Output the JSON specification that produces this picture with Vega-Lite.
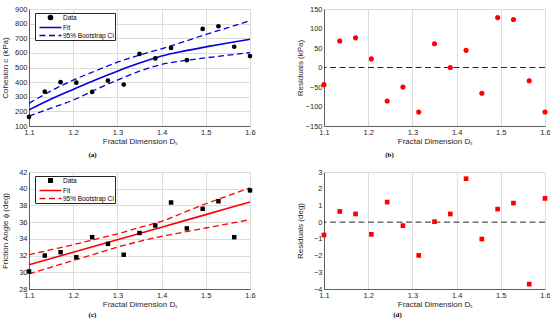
{
  "$schema": "https://vega.github.io/schema/vega-lite/v6.json",
  "background": "white",
  "padding": {"left": 0, "top": 4, "right": 2, "bottom": 2},
  "resolve": {"scale": {"color": "independent"}, "legend": {"color": "independent"}},
  "datasets": {
    "pts": [
      {"D": 1.1, "c": 162, "rc": -44, "phi": 30.1, "rphi": -0.77},
      {"D": 1.1357, "c": 335, "rc": 68, "phi": 32.0, "rphi": 0.64},
      {"D": 1.1714, "c": 400, "rc": 76, "phi": 32.4, "rphi": 0.49},
      {"D": 1.2071, "c": 396, "rc": 22, "phi": 31.8, "rphi": -0.73},
      {"D": 1.2429, "c": 333, "rc": -86, "phi": 34.2, "rphi": 1.2},
      {"D": 1.2786, "c": 410, "rc": -50, "phi": 33.4, "rphi": -0.21},
      {"D": 1.3143, "c": 383, "rc": -114, "phi": 32.1, "rphi": -1.99},
      {"D": 1.35, "c": 593, "rc": 61, "phi": 34.7, "rphi": 0.03},
      {"D": 1.3857, "c": 562, "rc": 0, "phi": 35.6, "rphi": 0.49},
      {"D": 1.4214, "c": 634, "rc": 44, "phi": 38.35, "rphi": 2.6},
      {"D": 1.4571, "c": 550, "rc": -66, "phi": 35.25, "rphi": -1.01},
      {"D": 1.4929, "c": 764, "rc": 128, "phi": 37.6, "rphi": 0.78},
      {"D": 1.5286, "c": 782, "rc": 123, "phi": 38.5, "rphi": 1.14},
      {"D": 1.5643, "c": 642, "rc": -34, "phi": 34.2, "rphi": -3.71},
      {"D": 1.6, "c": 578, "rc": -114, "phi": 39.8, "rphi": 1.42}
    ],
    "curves": [
      {"D": 1.1, "cfit": 210, "clo": 168, "chi": 255, "pfit": 30.9, "plo": 29.8, "phi": 32.1},
      {"D": 1.15, "cfit": 285, "clo": 222, "chi": 340, "pfit": 31.65, "plo": 30.6, "phi": 32.7},
      {"D": 1.2, "cfit": 350, "clo": 277, "chi": 414, "pfit": 32.4, "plo": 31.4, "phi": 33.3},
      {"D": 1.25, "cfit": 415, "clo": 348, "chi": 476, "pfit": 33.15, "plo": 32.2, "phi": 33.95},
      {"D": 1.3, "cfit": 475, "clo": 414, "chi": 536, "pfit": 33.9, "plo": 33.0, "phi": 34.6},
      {"D": 1.35, "cfit": 530, "clo": 475, "chi": 585, "pfit": 34.65, "plo": 33.7, "phi": 35.35},
      {"D": 1.4, "cfit": 578, "clo": 521, "chi": 628, "pfit": 35.4, "plo": 34.3, "phi": 36.1},
      {"D": 1.45, "cfit": 612, "clo": 547, "chi": 676, "pfit": 36.15, "plo": 34.8, "phi": 37.15},
      {"D": 1.5, "cfit": 641, "clo": 566, "chi": 726, "pfit": 36.9, "plo": 35.3, "phi": 38.2},
      {"D": 1.55, "cfit": 668, "clo": 584, "chi": 772, "pfit": 37.65, "plo": 35.8, "phi": 39.15},
      {"D": 1.6, "cfit": 693, "clo": 602, "chi": 820, "pfit": 38.4, "plo": 36.3, "phi": 40.1}
    ]
  },
  "spacing": 9,
  "vconcat": [
    {
      "spacing": 39,
      "resolve": {"scale": {"color": "independent"}, "legend": {"color": "independent"}},
      "hconcat": [
        {
          "width": 221, "height": 117,
          "title": {"text": "(a)", "dx": -47},
          "layer": [
            {
              "data": {"name": "curves"},
              "mark": {"type": "line", "strokeWidth": 1.6, "interpolate": "monotone"},
              "encoding": {
                "x": {"field": "D", "type": "quantitative", "scale": {"domain": [1.1, 1.6], "nice": false}, "axis": {"values": [1.1, 1.2, 1.3, 1.4, 1.5, 1.6], "format": ".1f"}, "title": "Fractal Dimension Dₛ"},
                "y": {"field": "cfit", "type": "quantitative", "scale": {"domain": [100, 900], "nice": false}, "axis": {"tickCount": 9, "labelOverlap": false}, "title": "Cohesion c (kPa)"},
                "color": {
                  "datum": "Fit", "type": "nominal",
                  "scale": {"domain": ["Data", "Fit", "95% Bootstrap CI"], "range": ["black", "#0000dd", "#0000dd"]},
                  "legend": {
                    "orient": "none", "legendX": 6, "legendY": 4, "title": null, "direction": "vertical",
                    "fillColor": "white", "strokeColor": "#262626", "padding": 1, "rowPadding": 1,
                    "labelFont": "Liberation Sans", "labelFontSize": 6.5, "labelColor": "black",
                    "symbolSize": 25, "symbolOffset": 11, "labelOffset": 9,
                    "encode": {"symbols": {"update": {
                      "shape": {"signal": "datum.value === 'Data' ? 'circle' : 'M-4.4,0H4.4'"},
                      "size": {"signal": "datum.value === 'Data' ? 18 : 25"},
                      "fill": {"signal": "datum.value === 'Data' ? 'black' : 'transparent'"},
                      "stroke": {"signal": "datum.value === 'Data' ? 'transparent' : '#0000dd'"},
                      "strokeDash": {"signal": "datum.value === '95% Bootstrap CI' ? [6, 3.5] : [1, 0]"},
                      "strokeWidth": {"value": 1.5},
                      "opacity": {"value": 1}
                    }}}
                  }
                }
              }
            },
            {
              "data": {"name": "curves"},
              "mark": {"type": "line", "strokeWidth": 1.3, "strokeDash": [6, 3.5], "interpolate": "monotone"},
              "encoding": {
                "x": {"field": "D", "type": "quantitative", "title": "Fractal Dimension Dₛ"},
                "y": {"field": "clo", "type": "quantitative", "title": "Cohesion c (kPa)"},
                "color": {"datum": "95% Bootstrap CI", "type": "nominal"}
              }
            },
            {
              "data": {"name": "curves"},
              "mark": {"type": "line", "strokeWidth": 1.3, "strokeDash": [6, 3.5], "interpolate": "monotone"},
              "encoding": {
                "x": {"field": "D", "type": "quantitative", "title": "Fractal Dimension Dₛ"},
                "y": {"field": "chi", "type": "quantitative", "title": "Cohesion c (kPa)"},
                "color": {"datum": "95% Bootstrap CI", "type": "nominal"}
              }
            },
            {
              "data": {"name": "pts"},
              "mark": {"type": "point", "filled": true, "shape": "circle", "size": 22, "opacity": 1},
              "encoding": {
                "x": {"field": "D", "type": "quantitative", "title": "Fractal Dimension Dₛ"},
                "y": {"field": "c", "type": "quantitative", "title": "Cohesion c (kPa)"},
                "color": {"datum": "Data", "type": "nominal"}
              }
            }
          ]
        },
        {
          "width": 221, "height": 117,
          "title": {"text": "(b)", "dx": -45},
          "layer": [
            {
              "data": {"values": [{}]},
              "mark": {"type": "rule", "color": "#262626", "strokeWidth": 1, "strokeDash": [6, 3.5]},
              "encoding": {"y": {"datum": 0, "type": "quantitative"}}
            },
            {
              "data": {"name": "pts"},
              "mark": {"type": "point", "filled": true, "shape": "circle", "size": 26, "color": "#ff0000", "opacity": 1},
              "encoding": {
                "x": {"field": "D", "type": "quantitative", "scale": {"domain": [1.1, 1.6], "nice": false}, "axis": {"values": [1.1, 1.2, 1.3, 1.4, 1.5, 1.6], "format": ".1f"}, "title": "Fractal Dimension Dₛ"},
                "y": {"field": "rc", "type": "quantitative", "scale": {"domain": [-150, 150], "nice": false}, "axis": {"tickCount": 7, "labelOverlap": false}, "title": "Residuals (kPa)"}
              }
            }
          ]
        }
      ]
    },
    {
      "spacing": 39,
      "resolve": {"scale": {"color": "independent"}, "legend": {"color": "independent"}},
      "hconcat": [
        {
          "width": 221, "height": 117,
          "title": {"text": "(c)", "dx": -47, "offset": 2},
          "layer": [
            {
              "data": {"name": "curves"},
              "mark": {"type": "line", "strokeWidth": 1.6},
              "encoding": {
                "x": {"field": "D", "type": "quantitative", "scale": {"domain": [1.1, 1.6], "nice": false}, "axis": {"values": [1.1, 1.2, 1.3, 1.4, 1.5, 1.6], "format": ".1f"}, "title": "Fractal Dimension Dₛ"},
                "y": {"field": "pfit", "type": "quantitative", "scale": {"domain": [28, 42], "nice": false}, "axis": {"tickCount": 8, "labelOverlap": false}, "title": "Friction Angle ϕ (deg)"},
                "color": {
                  "datum": "Fit", "type": "nominal",
                  "scale": {"domain": ["Data", "Fit", "95% Bootstrap CI"], "range": ["black", "#ff0000", "#ff0000"]},
                  "legend": {
                    "orient": "none", "legendX": 6, "legendY": 4, "title": null, "direction": "vertical",
                    "fillColor": "white", "strokeColor": "#262626", "padding": 1, "rowPadding": 1,
                    "labelFont": "Liberation Sans", "labelFontSize": 6.5, "labelColor": "black",
                    "symbolSize": 25, "symbolOffset": 11, "labelOffset": 9,
                    "encode": {"symbols": {"update": {
                      "shape": {"signal": "datum.value === 'Data' ? 'square' : 'M-4.4,0H4.4'"},
                      "size": {"signal": "datum.value === 'Data' ? 12 : 25"},
                      "fill": {"signal": "datum.value === 'Data' ? 'black' : 'transparent'"},
                      "stroke": {"signal": "datum.value === 'Data' ? 'transparent' : '#ff0000'"},
                      "strokeDash": {"signal": "datum.value === '95% Bootstrap CI' ? [6, 3.5] : [1, 0]"},
                      "strokeWidth": {"value": 1.5},
                      "opacity": {"value": 1}
                    }}}
                  }
                }
              }
            },
            {
              "data": {"name": "curves"},
              "mark": {"type": "line", "strokeWidth": 1.3, "strokeDash": [6, 3.5], "interpolate": "monotone"},
              "encoding": {
                "x": {"field": "D", "type": "quantitative", "title": "Fractal Dimension Dₛ"},
                "y": {"field": "plo", "type": "quantitative", "title": "Friction Angle ϕ (deg)"},
                "color": {"datum": "95% Bootstrap CI", "type": "nominal"}
              }
            },
            {
              "data": {"name": "curves"},
              "mark": {"type": "line", "strokeWidth": 1.3, "strokeDash": [6, 3.5], "interpolate": "monotone"},
              "encoding": {
                "x": {"field": "D", "type": "quantitative", "title": "Fractal Dimension Dₛ"},
                "y": {"field": "phi", "type": "quantitative", "title": "Friction Angle ϕ (deg)"},
                "color": {"datum": "95% Bootstrap CI", "type": "nominal"}
              }
            },
            {
              "data": {"name": "pts"},
              "mark": {"type": "point", "filled": true, "shape": "square", "size": 20, "opacity": 1},
              "encoding": {
                "x": {"field": "D", "type": "quantitative", "title": "Fractal Dimension Dₛ"},
                "y": {"field": "phi", "type": "quantitative", "title": "Friction Angle ϕ (deg)"},
                "color": {"datum": "Data", "type": "nominal"}
              }
            }
          ]
        },
        {
          "width": 221, "height": 117,
          "title": {"text": "(d)", "dx": -37, "offset": 2},
          "layer": [
            {
              "data": {"values": [{}]},
              "mark": {"type": "rule", "color": "#262626", "strokeWidth": 1, "strokeDash": [6, 3.5]},
              "encoding": {"y": {"datum": 0, "type": "quantitative"}}
            },
            {
              "data": {"name": "pts"},
              "mark": {"type": "point", "filled": true, "shape": "square", "size": 22, "color": "#ff0000", "opacity": 1},
              "encoding": {
                "x": {"field": "D", "type": "quantitative", "scale": {"domain": [1.1, 1.6], "nice": false}, "axis": {"values": [1.1, 1.2, 1.3, 1.4, 1.5, 1.6], "format": ".1f"}, "title": "Fractal Dimension Dₛ"},
                "y": {"field": "rphi", "type": "quantitative", "scale": {"domain": [-4, 3], "nice": false}, "axis": {"tickCount": 8, "labelOverlap": false}, "title": "Residuals (deg)"}
              }
            }
          ]
        }
      ]
    }
  ],
  "config": {
    "font": "Liberation Sans",
    "view": {"stroke": "#dcdcdc", "strokeWidth": 1},
    "axis": {
      "labelFont": "Liberation Sans", "labelFontSize": 7.5, "labelColor": "#262626",
      "labelFlush": false,
      "titleFont": "Liberation Sans", "titleFontSize": 8, "titleFontWeight": "normal", "titleColor": "#262626",
      "domainColor": "#262626", "domainWidth": 0.7, "ticks": false,
      "gridColor": "#dcdcdc", "gridWidth": 1, "labelPadding": 2, "titlePadding": 2
    },
    "axisY": {"minExtent": 18, "maxExtent": 18},
    "title": {"orient": "bottom", "anchor": "middle", "frame": "group", "font": "Liberation Serif", "fontSize": 7, "fontWeight": "bold", "color": "black", "offset": 5}
  }
}
